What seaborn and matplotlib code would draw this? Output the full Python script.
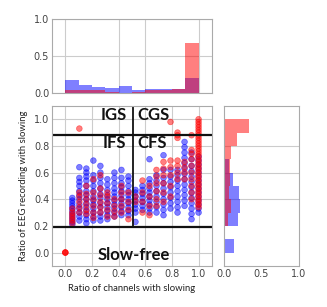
import numpy as np
import pandas as pd
import matplotlib
matplotlib.use("Agg")
import matplotlib.pyplot as plt
import seaborn as sns

# channel ratio of each column (k/19)
n_channels = 19

# y values per column k = 1..19, blue group
blue_cols = [
    [0.21, 0.23, 0.25, 0.27, 0.29, 0.31, 0.33, 0.35, 0.37, 0.39, 0.41],
    [0.24, 0.27, 0.30, 0.33, 0.36, 0.40, 0.43, 0.46, 0.50, 0.53, 0.56, 0.64],
    [0.22, 0.25, 0.28, 0.31, 0.34, 0.37, 0.40, 0.43, 0.46, 0.50, 0.54, 0.57, 0.60, 0.63],
    [0.24, 0.27, 0.30, 0.33, 0.36, 0.39, 0.42, 0.46, 0.50, 0.54, 0.58, 0.69],
    [0.24, 0.27, 0.30, 0.34, 0.37, 0.41, 0.44, 0.48, 0.52, 0.56, 0.60, 0.65],
    [0.25, 0.28, 0.31, 0.34, 0.37, 0.40, 0.43, 0.47, 0.51, 0.55],
    [0.27, 0.30, 0.33, 0.36, 0.39, 0.42, 0.45, 0.48, 0.52, 0.56, 0.60],
    [0.28, 0.31, 0.34, 0.37, 0.40, 0.43, 0.46, 0.49, 0.52, 0.56, 0.62],
    [0.28, 0.31, 0.34, 0.37, 0.40, 0.43, 0.46, 0.50, 0.54, 0.57],
    [0.23, 0.30, 0.33, 0.36, 0.39, 0.42, 0.45, 0.47],
    [0.32, 0.35, 0.38, 0.41, 0.44, 0.47, 0.50],
    [0.30, 0.33, 0.36, 0.39, 0.42, 0.45, 0.48, 0.52, 0.55, 0.70],
    [0.30, 0.34, 0.38, 0.42, 0.46, 0.50, 0.54, 0.58],
    [0.28, 0.32, 0.36, 0.40, 0.44, 0.48, 0.52, 0.56, 0.62, 0.73],
    [0.33, 0.37, 0.41, 0.45, 0.49, 0.53, 0.57, 0.62],
    [0.30, 0.34, 0.38, 0.42, 0.46, 0.50, 0.54, 0.58, 0.62],
    [0.35, 0.39, 0.43, 0.47, 0.51, 0.55, 0.59, 0.63, 0.67, 0.71, 0.75, 0.79, 0.83],
    [0.25, 0.29, 0.33, 0.37, 0.41, 0.45, 0.49, 0.53, 0.57, 0.61, 0.65, 0.70, 0.75],
    [0.30, 0.33, 0.36, 0.39, 0.42, 0.45, 0.48, 0.51, 0.54, 0.57, 0.60, 0.63, 0.66, 0.69, 0.72],
]

# red group
red_cols = [
    [0.22, 0.24, 0.26, 0.28, 0.30, 0.33],
    [0.30, 0.34, 0.38, 0.42, 0.45, 0.93],
    [0.29, 0.32, 0.36, 0.40, 0.44, 0.50],
    [0.26, 0.30, 0.35, 0.40, 0.45, 0.55],
    [0.30, 0.34, 0.38, 0.43, 0.48, 0.58],
    [0.27, 0.32, 0.37, 0.42, 0.45],
    [0.27, 0.31, 0.35, 0.40],
    [0.30, 0.35, 0.40, 0.45, 0.50],
    [0.25, 0.32, 0.38, 0.45],
    [0.38, 0.42],
    [0.30, 0.38, 0.45, 0.54],
    [0.28, 0.35, 0.42, 0.50],
    [0.35, 0.40, 0.46, 0.52, 0.57, 0.62],
    [0.38, 0.45, 0.52, 0.58, 0.63, 0.68],
    [0.42, 0.50, 0.58, 0.64, 0.69, 0.98],
    [0.55, 0.60, 0.65, 0.69, 0.86, 0.88, 0.90],
    [0.55, 0.60, 0.64, 0.68],
    [0.40, 0.45, 0.50, 0.55, 0.60, 0.65, 0.70, 0.74, 0.77, 0.88],
    [0.34, 0.36, 0.38, 0.40, 0.42, 0.44, 0.46, 0.48, 0.50, 0.52, 0.54, 0.56,
     0.58, 0.60, 0.62, 0.64, 0.66, 0.68, 0.70, 0.72, 0.74, 0.76, 0.78, 0.80,
     0.82, 0.84, 0.86, 0.88, 0.90, 0.92, 0.94, 0.96, 0.98, 1.00],
]

# slow-free records (red, at the origin)
red_origin = [0.0, 0.0, 0.0]

# marginal histograms (relative frequency per 0.1 bin)
bin_edges = [0.0, 0.1, 0.2, 0.3, 0.4, 0.5, 0.6, 0.7, 0.8, 0.9, 1.0]
top_blue = [0.18, 0.11, 0.077, 0.072, 0.09, 0.045, 0.054, 0.059, 0.054, 0.20]
top_red = [0.036, 0.036, 0.045, 0.018, 0.005, 0.02, 0.045, 0.04, 0.054, 0.68]
right_blue = [0.13, 0.0, 0.19, 0.22, 0.20, 0.12, 0.07, 0.01, 0.01, 0.01]
right_red = [0.01, 0.0, 0.05, 0.10, 0.07, 0.08, 0.08, 0.09, 0.18, 0.34]

rows = []
for k, ys in enumerate(blue_cols, start=1):
    for y in ys:
        rows.append((k / n_channels, y, "blue"))
for k, ys in enumerate(red_cols, start=1):
    for y in ys:
        rows.append((k / n_channels, y, "red"))
for y in red_origin:
    rows.append((0.0, y, "red"))
df = pd.DataFrame(rows, columns=["x", "y", "group"])

centers = [(a + b) / 2 for a, b in zip(bin_edges[:-1], bin_edges[1:])]

sns.set_style("whitegrid")
plt.rcParams["font.family"] = ["DejaVu Sans"]
grid_kw = dict(color="#cccccc", linewidth=0.8)

fig = plt.figure(figsize=(3.27, 3.07), dpi=100)
ax = fig.add_axes([0.159, 0.134, 0.489, 0.521])
ax_top = fig.add_axes([0.159, 0.697, 0.489, 0.241])
ax_right = fig.add_axes([0.685, 0.134, 0.229, 0.521])

for a in (ax, ax_top, ax_right):
    for s in a.spines.values():
        s.set_color("#aaaaaa")
        s.set_linewidth(0.8)
    a.tick_params(labelsize=7, colors="#444444", length=0, pad=2)
    a.grid(True, **grid_kw)

# main scatter
sns.scatterplot(data=df, x="x", y="y", hue="group",
                palette={"blue": "#0000ff", "red": "#ff0000"},
                hue_order=["blue", "red"], alpha=0.5, s=17, linewidth=0.5,
                edgecolor="face", legend=False, ax=ax)
ax.set_xlim(-0.1, 1.1)
ax.set_ylim(-0.1, 1.1)
ax.set_xticks([0.0, 0.2, 0.4, 0.6, 0.8, 1.0])
ax.set_yticks([0.0, 0.2, 0.4, 0.6, 0.8, 1.0])
ax.set_xlabel("Ratio of channels with slowing", family="Lato", fontsize=6.8,
              color="#222222", labelpad=4)
ax.set_ylabel("Ratio of EEG recording with slowing", family="Lato",
              fontsize=6.8, color="#222222", labelpad=4)

ax.axhline(0.88, color="#111111", lw=1.6)
ax.axhline(0.19, color="#111111", lw=1.6)
ax.plot([0.505, 0.505], [0.19, 1.1], color="#111111", lw=1.3)

bold = dict(family="Lato", fontweight="bold", fontsize=12, color="#111111",
            va="center")
ax.text(0.46, 1.03, "IGS", ha="right", **bold)
ax.text(0.54, 1.03, "CGS", ha="left", **bold)
ax.text(0.46, 0.82, "IFS", ha="right", **bold)
ax.text(0.54, 0.82, "CFS", ha="left", **bold)
ax.text(0.515, -0.015, "Slow-free", ha="center", **bold)

# top marginal
sns.histplot(x=centers, weights=top_blue, bins=bin_edges, color="#0000ff",
             alpha=0.5, linewidth=0, ax=ax_top)
sns.histplot(x=centers, weights=top_red, bins=bin_edges, color="#ff0000",
             alpha=0.5, linewidth=0, ax=ax_top)
ax_top.set_xlim(-0.1, 1.1)
ax_top.set_ylim(0, 1.0)
ax_top.set_xticks([0.0, 0.4, 0.6, 1.0])
ax_top.set_xticklabels([])
ax_top.set_yticks([0.0, 0.5, 1.0])
ax_top.set_ylabel("")
ax_top.set_xlabel("")

# right marginal
sns.histplot(y=centers, weights=right_blue, bins=bin_edges, color="#0000ff",
             alpha=0.5, linewidth=0, ax=ax_right)
sns.histplot(y=centers, weights=right_red, bins=bin_edges, color="#ff0000",
             alpha=0.5, linewidth=0, ax=ax_right)
ax_right.set_ylim(-0.1, 1.1)
ax_right.set_xlim(0, 1.0)
ax_right.set_yticks([0.4, 0.6, 0.8])
ax_right.set_yticklabels([])
ax_right.set_xticks([0.0, 0.5, 1.0])
ax_right.xaxis.grid(False)
ax_right.set_ylabel("")
ax_right.set_xlabel("")

fig.savefig("out.png", dpi=100)
